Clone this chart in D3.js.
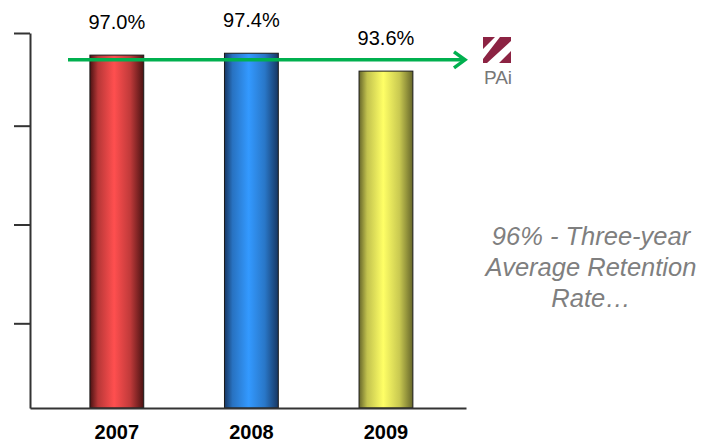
<!DOCTYPE html>
<html>
<head>
<meta charset="utf-8">
<script src="https://cdn.jsdelivr.net/npm/d3@7"></script>
<style>
  body { margin: 0; background: #fff; }
  svg { display: block; font-family: "Liberation Sans", Arial, sans-serif; }
</style>
</head>
<body>
<div id="container"></div>
<script>
const width = 707
const height = 442

// data
const years = ["2007", "2008", "2009"]
const retention = [97.0, 97.4, 93.6]
const average = 96
const yTicks = [40, 61, 82, 101.7]
const noteLines = ["96% - Three-year", "Average Retention", "Rate\u2026"]

const barColors = [
  { edge: "#4a1212", mid: "#ff4f4f" },
  { edge: "#173763", mid: "#3399ff" },
  { edge: "#66662a", mid: "#ffff66" }
]

const svg = d3.select("#container")
  .append("svg")
  .attr("width", width)
  .attr("height", height)

const defs = svg.append("defs")

// cylinder-ish horizontal gradients
barColors.forEach((c, i) => {
  const g = defs.append("linearGradient")
    .attr("id", "grad" + i)
    .attr("x1", "0%").attr("x2", "100%")
    .attr("y1", "0%").attr("y2", "0%")
  g.append("stop").attr("offset", "0%").attr("stop-color", c.edge)
  g.append("stop").attr("offset", "15%").attr("stop-color", d3.interpolateRgb(c.edge, c.mid)(0.6))
  g.append("stop").attr("offset", "45%").attr("stop-color", c.mid)
  g.append("stop").attr("offset", "75%").attr("stop-color", d3.interpolateRgb(c.edge, c.mid)(0.65))
  g.append("stop").attr("offset", "100%").attr("stop-color", c.edge)
})

const x = d3.scaleBand()
  .domain(years)
  .range([30, 466])
  .paddingInner(0.6)
  .paddingOuter(0.42)
  .align(0.53)

const y = d3.scaleLinear()
  .domain([22, 101.7])
  .range([408, 33])

// bars
svg.append("g").selectAll("rect")
  .data(retention)
  .join("rect")
  .attr("x", (d, i) => x(years[i]))
  .attr("y", d => y(d))
  .attr("width", x.bandwidth())
  .attr("height", d => y.range()[0] - y(d))
  .attr("fill", (d, i) => `url(#grad${i})`)
  .attr("stroke", "#1a1a1a")
  .attr("stroke-width", 1)

// y axis
const yAxis = d3.axisLeft(y)
  .tickValues(yTicks)
  .tickSize(16)
  .tickFormat("")
  .tickSizeOuter(0)

const ya = svg.append("g")
  .attr("transform", "translate(30,0)")
  .call(yAxis)
ya.select(".domain").attr("stroke", "#333").attr("stroke-width", 2)
ya.selectAll(".tick line").attr("stroke", "#333").attr("stroke-width", 2)

// x axis
const xAxis = d3.axisBottom(x).tickSize(0).tickSizeOuter(0).tickPadding(17)
const xa = svg.append("g")
  .attr("transform", "translate(0,408)")
  .call(xAxis)
xa.select(".domain").attr("stroke", "#333").attr("stroke-width", 2)
xa.selectAll("text")
  .attr("font-family", "Liberation Sans, Arial, sans-serif")
  .attr("font-size", 20)
  .attr("font-weight", "bold")
  .attr("fill", "#000")

// value labels
svg.append("g").selectAll("text")
  .data(retention)
  .join("text")
  .attr("x", (d, i) => x(years[i]) + x.bandwidth() / 2)
  .attr("y", d => y(d) - 26)
  .attr("text-anchor", "middle")
  .attr("font-size", 20)
  .attr("fill", "#000")
  .text(d => d.toFixed(1) + "%")

// average arrow
const green = "#00b04f"
svg.append("line")
  .attr("x1", 68).attr("x2", 464)
  .attr("y1", y(average)).attr("y2", y(average))
  .attr("stroke", green)
  .attr("stroke-width", 3.5)
svg.append("path")
  .attr("d", `M${454},${y(average) - 8} L${465},${y(average)} L${454},${y(average) + 8}`)
  .attr("fill", "none")
  .attr("stroke", green)
  .attr("stroke-width", 3.5)

// PAi logo
const logo = svg.append("g").attr("transform", "translate(483,37)")
const maroon = "#8c2343"
logo.append("path")
  .attr("d", "M0,0 H12 L0,12 Z M17,0 H28 V4 L4,26 H0 V22 Z M28,14 V26 H16 Z")
  .attr("fill", maroon)
logo.append("text")
  .attr("x", 15).attr("y", 47)
  .attr("text-anchor", "middle")
  .attr("font-size", 19)
  .attr("fill", "#777")
  .text("PAi")

// note on the right
svg.append("g").selectAll("text")
  .data(noteLines)
  .join("text")
  .attr("x", 591)
  .attr("y", (d, i) => 245 + i * 31)
  .attr("text-anchor", "middle")
  .attr("font-size", 25.5)
  .attr("font-style", "italic")
  .attr("fill", "#7f7f7f")
  .text(d => d)
</script>
</body>
</html>
